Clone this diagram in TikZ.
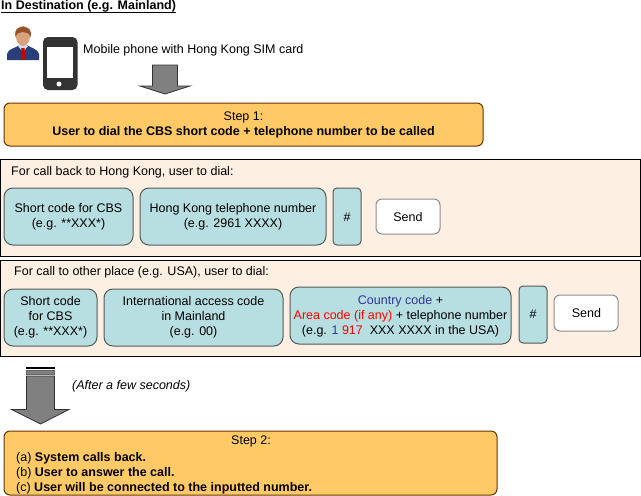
\documentclass[tikz,border=0pt]{standalone}
\usepackage{fontspec}
\setmainfont{Liberation Sans}
\usepackage{xcolor}
\definecolor{panelc}{HTML}{FEEFE3}
\definecolor{tealc}{HTML}{B7DEE1}
\definecolor{orangec}{HTML}{FFC966}
\definecolor{blueb}{HTML}{33339A}
\definecolor{arrowc}{HTML}{808080}
\definecolor{suitc}{HTML}{2A3F78}
\definecolor{skinc}{HTML}{D9A27A}
\definecolor{hairc}{HTML}{96532A}
\tikzset{
  txt/.style={inner sep=0pt,font=\fontsize{12.5}{15}\selectfont,align=center},
  panelbox/.style={draw=black,line width=1pt,fill=panelc},
  tealbox/.style={draw=black!65,line width=1pt,fill=tealc,rounded corners=#1},
  tealbox/.default=9pt,
  sendbox/.style={draw=black!45,line width=1pt,fill=white,rounded corners=6pt},
  stepbox/.style={draw=black!60!orange,line width=1pt,fill=orangec,rounded corners=6pt},
  blockarrow/.style={draw=black!80,line width=.8pt,fill=arrowc},
}
\begin{document}
\begin{tikzpicture}[x=1pt,y=-1pt]
\useasboundingbox (0,0) rectangle (641,496);
\path[fill=white] (0,0) rectangle (641,496);
\node[txt,anchor=west] (title) at (1,6) {\bfseries In Destination (e.g. Mainland)};
\draw[black,line width=.8pt] (1,12.5) -- (175.5,12.5);

% person
\path[fill=suitc] (7,60) -- (7,54) .. controls (8,49) and (15,48) .. (20,45) -- (27,45) .. controls (31,48) and (38,49) .. (39,54) -- (39,60) -- cycle;
\path[fill=white!85!blue] (18,46) -- (23,52) -- (28,46) -- (26,44) -- (20,44) -- cycle;
\path[fill=red!80!black] (21.5,48) -- (24.5,48) -- (25.5,59.5) -- (21,59.5) -- cycle;
\path[fill=skinc] (23,36) ellipse [x radius=7,y radius=10];
\path[fill=hairc] (15.5,37) .. controls (14,29) and (18,27) .. (23,27) .. controls (29,27) and (32,30) .. (30.5,37) .. controls (29,32) and (26,33) .. (23,32) .. controls (20,33) and (17,32) .. (15.5,37) -- cycle;
% phone
\path[fill=black!80,rounded corners=5pt] (43,37) rectangle (77.5,90);
\path[fill=white] (47,47) rectangle (73,78);
\path[fill=white] (59,84) circle [radius=2.5];
\node[txt,anchor=west] (phone) at (83,50.5) {Mobile phone with Hong Kong SIM card};

% arrow 1
\path[blockarrow] (152.5,65) -- (177.5,65) -- (177.5,86) -- (190,86) -- (165,94) -- (140,86) -- (152.5,86) -- cycle;

% step 1
\path[stepbox] (4,103) rectangle (483,146);
\node[txt] (s1) at (243.5,125) {Step 1:\\\bfseries User to dial the CBS short code + telephone number to be called};

% panel 1
\path[panelbox] (0.5,159.5) rectangle (640,256);
\node[txt,anchor=west] (p1) at (11,172) {For call back to Hong Kong, user to dial:};
\path[tealbox] (4,188) rectangle (133,245);
\node[txt] (a1) at (68.5,217) {Short code for CBS\\(e.g. **XXX*)};
\path[tealbox] (140,188) rectangle (326,245);
\node[txt] (a2) at (233,217) {Hong Kong telephone number\\(e.g. 2961 XXXX)};
\path[tealbox=4pt] (333,188) rectangle (361,245);
\node[txt] (a3) at (347,217) {\#};
\path[sendbox] (376,199) rectangle (440,234);
\node[txt] (a4) at (408,217) {Send};

% panel 2
\path[panelbox] (0.5,260.5) rectangle (640,356);
\node[txt,anchor=west] (p2) at (14,272) {For call to other place (e.g. USA), user to dial:};
\path[tealbox] (4,289) rectangle (97,346);
\node[txt] (b1) at (50.5,317.5) {Short code\\for CBS\\(e.g. **XXX*)};
\path[tealbox] (104,289) rectangle (283,346);
\node[txt] (b2) at (193.5,317.5) {International access code\\in Mainland\\(e.g. 00)};
\path[tealbox] (290,287) rectangle (511,344);
\node[txt] (b3) at (400.5,316) {\textcolor{blueb}{Country code} +\\\textcolor{red}{Area code (if any)} + telephone number\\(e.g. \textcolor{blueb}{1} \textcolor{red}{917}\ \ XXX XXXX in the USA)};
\path[tealbox=4pt] (519,286) rectangle (547,343);
\node[txt] (b4) at (533,314) {\#};
\path[sendbox] (554,295) rectangle (618,331);
\node[txt] (b5) at (586.5,313) {Send};

% arrow 2
\path[fill=black] (26,367) rectangle (55,369);
\path[blockarrow,draw=black!60,line width=.5pt] (26.5,370.5) rectangle (54.5,374.5);
\path[blockarrow] (26.5,376) -- (54.5,376) -- (54.5,409.5) -- (69,409.5) -- (40.5,424) -- (11.5,409.5) -- (26.5,409.5) -- cycle;
\node[txt,anchor=west,font=\fontsize{12.5}{15}\selectfont\itshape] (wait) at (72,386) {(After a few seconds)};

% step 2
\path[stepbox] (4,431) rectangle (497,495);
\node[txt] (s2) at (251,441) {Step 2:};
\node[txt,anchor=west,align=left] (s2b) at (16,473.5) {(a) \textbf{System calls back.}\\(b) \textbf{User to answer the call.}\\(c) \textbf{User will be connected to the inputted number.}};
\end{tikzpicture}
\end{document}
